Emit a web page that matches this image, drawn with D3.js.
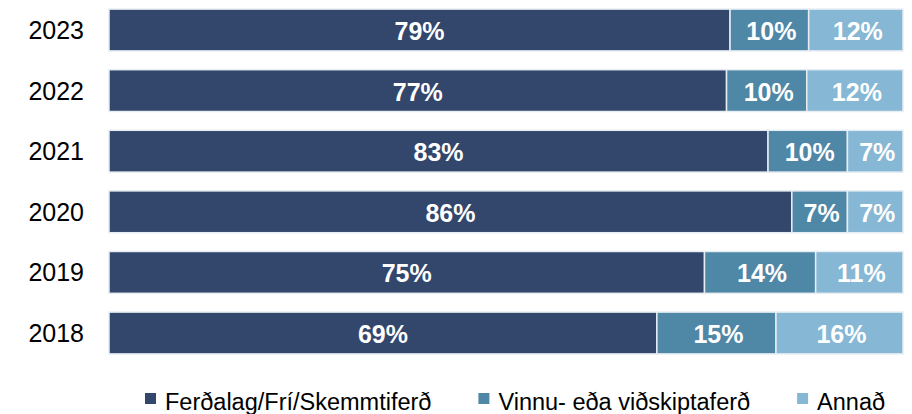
<!DOCTYPE html>
<html>
<head>
<meta charset="utf-8">
<script src="https://cdn.jsdelivr.net/npm/d3@7"></script>
<style>
  body { margin: 0; background: #fff; }
  svg { display: block; font-family: "Liberation Sans", Arial, sans-serif; }
</style>
</head>
<body>
<svg id="chart" width="912" height="414"></svg>
<script>
// data
let years = ["2023", "2022", "2021", "2020", "2019", "2018"];
let seriesNames = ["Ferðalag/Frí/Skemmtiferð", "Vinnu- eða viðskiptaferð", "Annað"];
let leisure = [79, 77, 83, 86, 75, 69];
let business = [10, 10, 10, 7, 14, 15];
let other = [12, 12, 7, 7, 11, 16];
let colors = ["#33466b", "#4f87a7", "#86b7d4"];

let svg = d3.select("#chart");

// rows, each normalised so the bar fills 100%
let rows = years.map(function (y, i) {
    let vals = [leisure[i], business[i], other[i]];
    let total = d3.sum(vals);
    let x0 = 0;
    let segs = vals.map(function (v, k) {
        let s = { year: y, k: k, value: v, x0: x0 / total, x1: (x0 + v) / total };
        x0 += v;
        return s;
    });
    return { year: y, segs: segs };
});

let xScale = d3.scaleLinear().domain([0, 1]).range([109, 903]);
let yScale = d3.scaleBand().domain(years).range([0, 363])
    .paddingInner(0.31).paddingOuter(0.15);

// year labels
svg.selectAll(".year")
    .data(years)
    .enter().append("text")
    .attr("class", "year")
    .attr("x", 84)
    .attr("y", d => yScale(d) + yScale.bandwidth() / 2)
    .attr("dy", "0.36em")
    .attr("text-anchor", "end")
    .attr("font-size", 25)
    .attr("fill", "#000")
    .text(d => d);

let gRow = svg.selectAll(".row")
    .data(rows)
    .enter().append("g")
    .attr("class", "row");

gRow.selectAll("rect")
    .data(d => d.segs)
    .enter().append("rect")
    .attr("x", d => xScale(d.x0))
    .attr("y", d => yScale(d.year))
    .attr("width", d => xScale(d.x1) - xScale(d.x0))
    .attr("height", yScale.bandwidth())
    .attr("fill", d => colors[d.k])
    .attr("stroke", "#e6edf3")
    .attr("stroke-width", 1.5);

gRow.selectAll(".lbl")
    .data(d => d.segs)
    .enter().append("text")
    .attr("class", "lbl")
    .attr("x", d => (xScale(d.x0) + xScale(d.x1)) / 2 + (d.k > 0 ? 2 : 0))
    .attr("y", d => yScale(d.year) + yScale.bandwidth() / 2)
    .attr("dy", "0.4em")
    .attr("text-anchor", "middle")
    .attr("font-size", 25)
    .attr("font-weight", "bold")
    .attr("fill", "#fff")
    .text(d => d.value + "%");

// legend, laid out left to right
let legend = svg.append("g");
let lx = 145;
seriesNames.forEach(function (name, k) {
    let item = legend.append("g").attr("transform", "translate(" + lx + ",0)");
    item.append("rect")
        .attr("x", 0)
        .attr("y", 393)
        .attr("width", 11)
        .attr("height", 11)
        .attr("fill", colors[k]);
    let t = item.append("text")
        .attr("x", 20)
        .attr("y", 410)
        .attr("font-size", 23.5)
        .attr("fill", "#000")
        .text(name);
    lx += 20 + t.node().getComputedTextLength() + 47;
});
</script>
</body>
</html>
